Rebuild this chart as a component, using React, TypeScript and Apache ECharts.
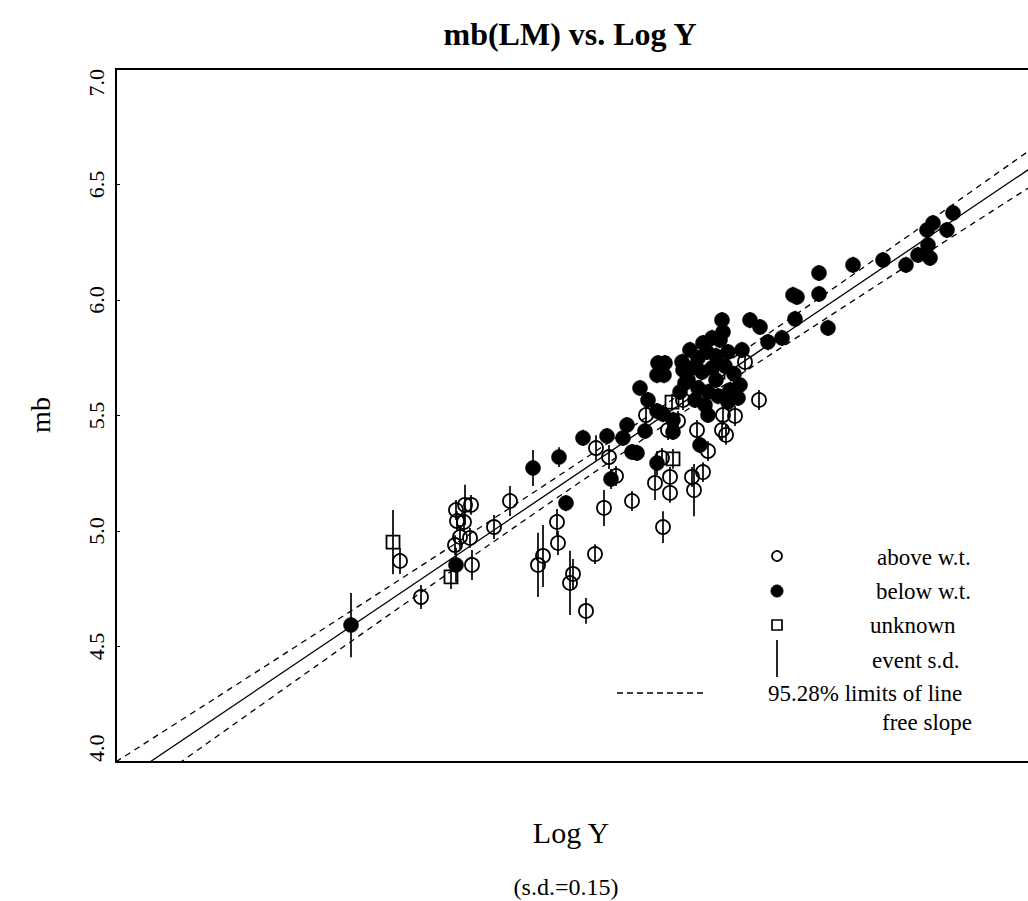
import React, { useEffect, useRef } from 'react';
import * as echarts from 'echarts';

// y-axis ticks
const yTickLabels = ['4.0', '4.5', '5.0', '5.5', '6.0', '6.5', '7.0'];

// above water table (open circles): Log Y, mb, event s.d.
const aboveX = [2.000, 2.105, 2.280, 2.325, 2.355, 2.285, 2.320, 2.300, 2.275, 2.350, 2.360, 2.470, 2.550, 2.785, 2.790, 2.715, 2.690, 2.865, 2.850, 2.975, 2.930, 3.020, 2.980, 3.045, 3.080, 3.160, 3.230, 3.340, 3.390, 3.310, 3.275, 3.350, 3.350, 3.315, 3.460, 3.515, 3.470, 3.485, 3.610, 3.630, 3.540, 3.615, 3.675, 3.795, 3.725, 3.415];
const aboveY = [4.870, 4.714, 5.091, 5.113, 5.113, 5.043, 5.039, 4.974, 4.939, 4.970, 4.853, 5.017, 5.130, 5.039, 4.948, 4.892, 4.853, 4.814, 4.775, 4.900, 4.654, 5.100, 5.359, 5.320, 5.238, 5.130, 5.502, 5.437, 5.476, 5.316, 5.208, 5.234, 5.165, 5.017, 5.234, 5.255, 5.177, 5.437, 5.437, 5.416, 5.346, 5.502, 5.498, 5.567, 5.732, 5.567];
const aboveSd = [0.056, 0.052, 0.043, 0.087, 0.043, 0.043, 0.043, 0.052, 0.043, 0.043, 0.065, 0.052, 0.065, 0.056, 0.052, 0.134, 0.139, 0.065, 0.139, 0.043, 0.056, 0.078, 0.056, 0.052, 0.043, 0.043, 0.043, 0.043, 0.043, 0.043, 0.074, 0.043, 0.043, 0.069, 0.043, 0.043, 0.113, 0.043, 0.043, 0.043, 0.043, 0.043, 0.043, 0.043, 0.043, 0.043];

// below water table (filled circles)
const belowX = [1.755, 2.280, 2.665, 2.795, 2.830, 2.915, 3.035, 3.115, 3.135, 3.160, 3.185, 3.200, 3.240, 3.225, 3.285, 3.315, 3.290, 3.325, 3.285, 3.320, 3.410, 3.425, 3.400, 3.365, 3.285, 3.500, 3.540, 3.515, 3.560, 3.610, 3.615, 3.600, 3.750, 3.800, 3.710, 3.840, 3.910, 3.965, 3.985, 3.975, 4.095, 4.095, 4.140, 4.265, 4.415, 4.530, 4.590, 4.650, 4.640, 4.635, 4.665, 4.735, 4.765, 3.055, 3.365, 3.450, 3.490, 3.535, 3.580, 3.640, 3.460, 3.510, 3.560, 3.625, 3.670, 3.440, 3.490, 3.540, 3.590, 3.650, 3.700, 3.475, 3.525, 3.640, 3.690, 3.415, 3.580];
const belowY = [4.593, 4.853, 5.273, 5.320, 5.121, 5.403, 5.411, 5.403, 5.459, 5.342, 5.338, 5.619, 5.567, 5.433, 5.519, 5.506, 5.727, 5.727, 5.675, 5.675, 5.732, 5.641, 5.602, 5.429, 5.294, 5.372, 5.502, 5.814, 5.836, 5.913, 5.861, 5.827, 5.913, 5.883, 5.784, 5.818, 5.836, 6.022, 6.013, 5.918, 6.117, 6.026, 5.879, 6.152, 6.173, 6.152, 6.195, 6.182, 6.238, 6.303, 6.333, 6.303, 6.377, 5.225, 5.481, 5.784, 5.749, 5.775, 5.758, 5.775, 5.706, 5.688, 5.706, 5.714, 5.680, 5.654, 5.619, 5.602, 5.584, 5.610, 5.632, 5.567, 5.545, 5.558, 5.576, 5.697, 5.654];
const belowSd = [0.139, 0.074, 0.078, 0.043, 0.035, 0.035, 0.035, 0.035, 0.035, 0.035, 0.035, 0.035, 0.035, 0.035, 0.035, 0.035, 0.035, 0.035, 0.035, 0.035, 0.035, 0.035, 0.035, 0.035, 0.052, 0.035, 0.035, 0.035, 0.035, 0.035, 0.035, 0.035, 0.035, 0.035, 0.035, 0.035, 0.035, 0.035, 0.035, 0.035, 0.035, 0.035, 0.035, 0.035, 0.035, 0.035, 0.035, 0.035, 0.035, 0.035, 0.035, 0.035, 0.035, 0.043, 0.035, 0.035, 0.035, 0.035, 0.035, 0.035, 0.035, 0.035, 0.035, 0.035, 0.035, 0.035, 0.035, 0.035, 0.035, 0.035, 0.035, 0.035, 0.035, 0.035, 0.035, 0.035, 0.035];

// unknown (open squares)
const unknownX = [1.965, 2.255, 3.360, 3.365, 3.590];
const unknownY = [4.952, 4.801, 5.558, 5.312, 5.688];
const unknownSd = [0.139, 0.052, 0.035, 0.043, 0.035];

// fitted line (free slope) and 95.28% limits
const fitX = [0.58, 5.23];
const fitY = [3.901, 6.616];
const bandX = [0.58, 1.08, 1.58, 2.08, 2.58, 3.08, 3.58, 4.08, 4.58, 5.23];
const upperY = [4.001, 4.278, 4.556, 4.835, 5.117, 5.404, 5.698, 5.998, 6.301, 6.698];
const lowerY = [3.801, 4.108, 4.415, 4.719, 5.021, 5.318, 5.608, 5.892, 6.173, 6.534];

const FONT = 'Liberation Serif, DejaVu Serif, serif';

export default function App() {
  const ref = useRef<HTMLDivElement>(null);
  useEffect(() => {
    if (!ref.current) return;
    const chart = echarts.init(ref.current, null, { renderer: 'svg' });
    const zip = (xs: number[], ys: number[]) => xs.map((x, i) => [x, ys[i]]);
    const zip3 = (xs: number[], ys: number[], ss: number[]) => xs.map((x, i) => [x, ys[i], ss[i]]);
    const errData = [
      ...zip3(aboveX, aboveY, aboveSd),
      ...zip3(belowX, belowY, belowSd),
      ...zip3(unknownX, unknownY, unknownSd),
    ];
    chart.setOption({
      animation: false,
      backgroundColor: '#fff',
      grid: {
        left: 116, top: 69, width: 930, height: 693,
        show: true, borderColor: '#000', borderWidth: 2, backgroundColor: 'transparent',
      },
      xAxis: {
        type: 'value', min: 0.58, max: 5.23,
        axisLine: { show: false }, axisTick: { show: false }, axisLabel: { show: false }, splitLine: { show: false },
      },
      yAxis: {
        type: 'value', min: 4, max: 7, interval: 0.5,
        axisLine: { show: false },
        axisTick: { show: true, inside: true, length: 4, lineStyle: { color: '#000', width: 1 } },
        splitLine: { show: false },
        axisLabel: {
          rotate: 90, margin: 9, color: '#000', fontFamily: FONT, fontSize: 22,
          formatter: (v: number) => yTickLabels[Math.round((v - 4) / 0.5)] ?? '',
          alignMinLabel: 'left', alignMaxLabel: 'right',
        },
      },
      series: [
        {
          type: 'line', data: zip(fitX, fitY), symbol: 'none', clip: true,
          lineStyle: { color: '#000', width: 1.3, type: 'solid' }, z: 2,
        },
        {
          type: 'line', data: zip(bandX, upperY), symbol: 'none', clip: true, smooth: 0.3,
          lineStyle: { color: '#000', width: 1.3, type: [6, 5] }, z: 2,
        },
        {
          type: 'line', data: zip(bandX, lowerY), symbol: 'none', clip: true, smooth: 0.3,
          lineStyle: { color: '#000', width: 1.3, type: [6, 5] }, z: 2,
        },
        {
          type: 'custom', data: errData, encode: { x: 0, y: 1 }, z: 3,
          renderItem: (params: any, api: any) => {
            const x = api.value(0), y = api.value(1), sd = api.value(2);
            const p1 = api.coord([x, y - sd]);
            const p2 = api.coord([x, y + sd]);
            return {
              type: 'line',
              shape: { x1: p1[0], y1: p1[1], x2: p2[0], y2: p2[1] },
              style: { stroke: '#000', lineWidth: 1.7 },
            };
          },
        },
        {
          type: 'scatter', data: zip(belowX, belowY), symbol: 'circle', symbolSize: 15, z: 4,
          itemStyle: { color: '#000', borderColor: '#000', borderWidth: 0.5, opacity: 1 },
        },
        {
          type: 'scatter', data: zip(aboveX, aboveY), symbol: 'circle', symbolSize: 14, z: 5,
          itemStyle: { color: 'rgba(255,255,255,0)', borderColor: '#000', borderWidth: 1.8, opacity: 1 },
        },
        {
          type: 'scatter', data: zip(unknownX, unknownY), symbol: 'rect', symbolSize: 13, z: 5,
          itemStyle: { color: 'rgba(255,255,255,0)', borderColor: '#000', borderWidth: 1.8, opacity: 1 },
        },
      ],
      graphic: [
        { type: 'text', x: 570, y: 34, style: { text: 'mb(LM) vs. Log Y', font: `bold 32px ${FONT}`, fill: '#000', align: 'center', verticalAlign: 'middle' } },
        { type: 'text', x: 40, y: 415, rotation: Math.PI / 2, style: { text: 'mb', font: `28px ${FONT}`, fill: '#000', align: 'center', verticalAlign: 'middle' } },
        { type: 'text', x: 571, y: 832, style: { text: 'Log Y', font: `30px ${FONT}`, fill: '#000', align: 'center', verticalAlign: 'middle' } },
        { type: 'text', x: 566, y: 887, style: { text: '(s.d.=0.15)', font: `24px ${FONT}`, fill: '#000', align: 'center', verticalAlign: 'middle' } },
        // legend
        { type: 'circle', shape: { cx: 777, cy: 556, r: 5 }, style: { fill: 'none', stroke: '#000', lineWidth: 1.7 } },
        { type: 'circle', shape: { cx: 777, cy: 591, r: 6 }, style: { fill: '#000', stroke: '#000', lineWidth: 1 } },
        { type: 'rect', shape: { x: 772, y: 620, width: 10, height: 10 }, style: { fill: 'none', stroke: '#000', lineWidth: 1.7 } },
        { type: 'line', shape: { x1: 777, y1: 640, x2: 777, y2: 677 }, style: { stroke: '#000', lineWidth: 1.7 } },
        { type: 'line', shape: { x1: 617, y1: 693, x2: 707, y2: 693 }, style: { stroke: '#000', lineWidth: 1.3, lineDash: [6, 4] } },
        { type: 'text', x: 877, y: 557, style: { text: 'above w.t.', font: `23px ${FONT}`, fill: '#000', align: 'left', verticalAlign: 'middle' } },
        { type: 'text', x: 876, y: 591, style: { text: 'below w.t.', font: `23px ${FONT}`, fill: '#000', align: 'left', verticalAlign: 'middle' } },
        { type: 'text', x: 870, y: 625, style: { text: 'unknown', font: `23px ${FONT}`, fill: '#000', align: 'left', verticalAlign: 'middle' } },
        { type: 'text', x: 872, y: 660, style: { text: 'event s.d.', font: `23px ${FONT}`, fill: '#000', align: 'left', verticalAlign: 'middle' } },
        { type: 'text', x: 768, y: 693, style: { text: '95.28% limits of line', font: `23px ${FONT}`, fill: '#000', align: 'left', verticalAlign: 'middle' } },
        { type: 'text', x: 882, y: 722, style: { text: 'free slope', font: `23px ${FONT}`, fill: '#000', align: 'left', verticalAlign: 'middle' } },
      ],
    });
    return () => chart.dispose();
  }, []);
  return (
    <div style={{ position: 'fixed', left: 0, top: 0, width: 1028, height: 901, overflow: 'hidden', background: '#fff' }}>
      <div ref={ref} style={{ width: 1060, height: 901 }} />
    </div>
  );
}
